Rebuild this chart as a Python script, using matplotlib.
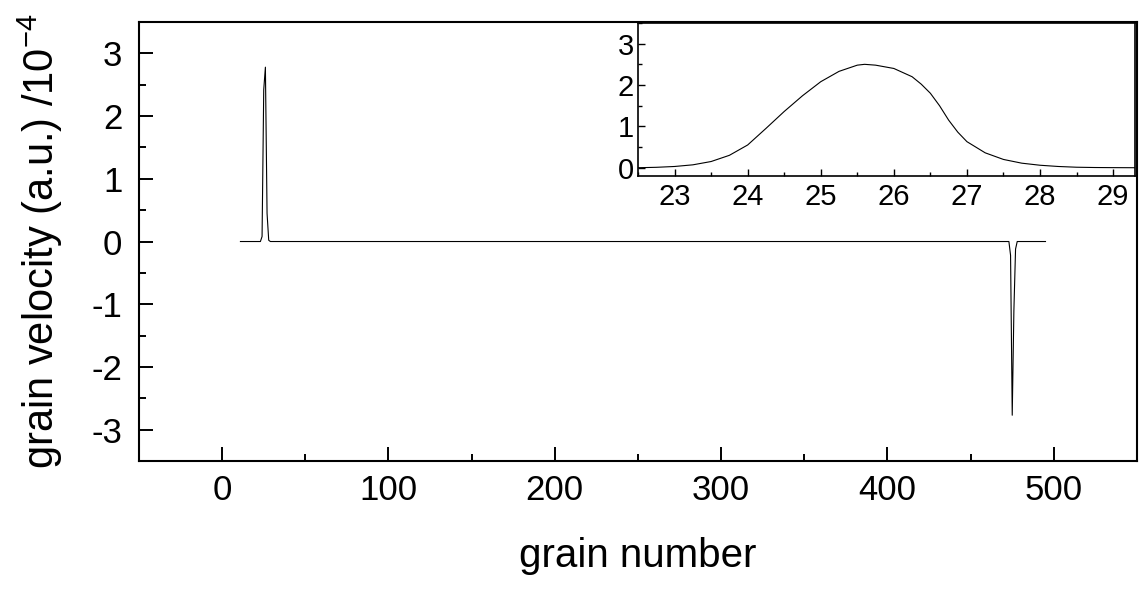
import numpy as np
import matplotlib
matplotlib.use("Agg")
import matplotlib.pyplot as plt
from matplotlib.ticker import MultipleLocator

plt.rcParams['font.family'] = ['Liberation Sans', 'DejaVu Sans']
plt.rcParams['mathtext.fontset'] = 'custom'
plt.rcParams['mathtext.rm'] = 'Liberation Sans'
plt.rcParams['mathtext.it'] = 'Liberation Sans'
plt.rcParams['axes.unicode_minus'] = False

# whole chain: pulse at the left end, mirrored pulse at the right end
grain = [11, 23, 24, 25, 26, 27, 28, 29,
         472, 473, 474, 475, 476, 477, 478, 495]
velocity = [0, 0, 0.08, 2.42, 2.78, 0.45, 0.02, 0,
            0, 0, -0.22, -2.77, -1.1, -0.12, 0, 0]

# zoom on the left pulse
inset_grain = [22.5, 22.75, 23.0, 23.25, 23.5, 23.75, 24.0, 24.25, 24.5,
               24.75, 25.0, 25.25, 25.5, 25.6, 25.75, 26.0, 26.25, 26.375,
               26.5, 26.625, 26.75, 26.875, 27.0, 27.25, 27.5, 27.75, 28.0,
               28.25, 28.5, 28.75, 29.0, 29.3]
inset_vel = [0.0, 0.01, 0.03, 0.07, 0.15, 0.3, 0.55, 0.95, 1.36,
             1.74, 2.08, 2.33, 2.48, 2.5, 2.48, 2.4, 2.2, 2.02,
             1.8, 1.5, 1.15, 0.86, 0.63, 0.36, 0.2, 0.11, 0.06,
             0.03, 0.012, 0.005, 0.002, 0.0]

fig = plt.figure(figsize=(11.42, 5.89), dpi=100)
ax = fig.add_axes([0.1217, 0.2173, 0.8739, 0.7453])
ax.plot(grain, velocity, color='black', linewidth=0.8)
ax.set_xlim(-50, 550)
ax.set_ylim(-3.5, 3.5)
ax.xaxis.set_major_locator(MultipleLocator(100))
ax.xaxis.set_minor_locator(MultipleLocator(50))
ax.yaxis.set_major_locator(MultipleLocator(1))
ax.yaxis.set_minor_locator(MultipleLocator(0.5))
ax.tick_params(which='both', direction='in', width=1.4, labelsize=25)
ax.tick_params(axis='x', which='both', pad=9)
ax.tick_params(axis='y', which='both', pad=12)
ax.tick_params(which='major', length=10)
ax.tick_params(which='minor', length=5)
for s in ax.spines.values():
    s.set_linewidth(1.5)
ax.set_xlabel("grain number", fontsize=29, labelpad=22)
ax.set_ylabel(r"grain velocity (a.u.) /10$^{-4}$", fontsize=30, labelpad=19)

ins = fig.add_axes([0.5587, 0.7012, 0.4352, 0.2598])
ins.plot(inset_grain, inset_vel, color='black', linewidth=0.8)
ins.set_xlim(22.5, 29.3)
ins.set_ylim(-0.2, 3.5)
ins.xaxis.set_major_locator(MultipleLocator(1))
ins.xaxis.set_minor_locator(MultipleLocator(0.5))
ins.yaxis.set_major_locator(MultipleLocator(1))
ins.yaxis.set_minor_locator(MultipleLocator(0.5))
ins.tick_params(which='both', direction='in', width=1.0, labelsize=21)
ins.tick_params(axis='x', which='both', pad=5)
ins.tick_params(axis='y', which='both', pad=3)
ins.tick_params(which='major', length=5)
ins.tick_params(which='minor', length=3)
for s in ins.spines.values():
    s.set_linewidth(1.2)

fig.savefig("out.png", dpi=100)
